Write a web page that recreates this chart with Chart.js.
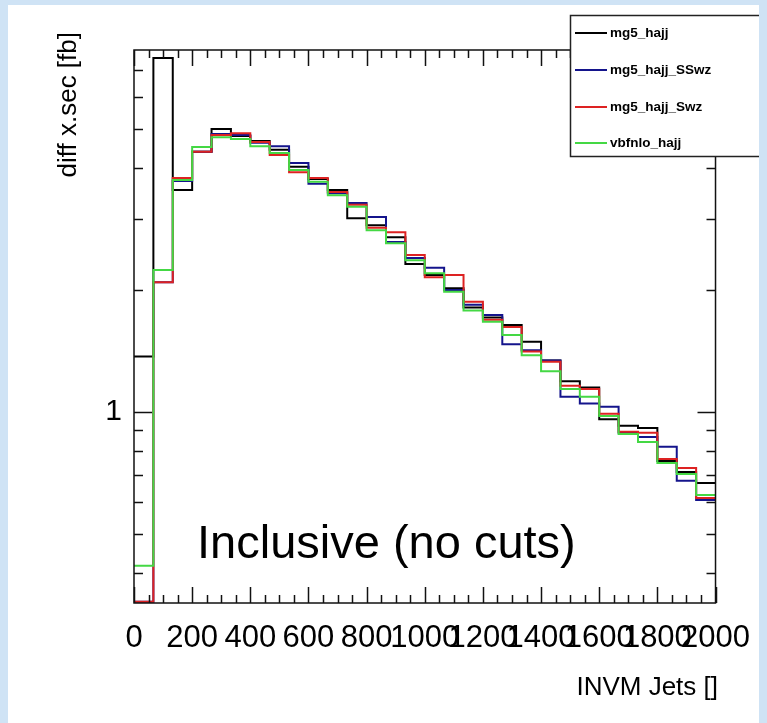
<!DOCTYPE html>
<html>
<head>
<meta charset="utf-8">
<script src="https://cdn.jsdelivr.net/npm/chart.js@4.4.1/dist/chart.umd.min.js"></script>
<style>
  html, body { margin: 0; padding: 0; background: #cfe3f5; }
  #wrap { width: 767px; height: 723px; }
</style>
</head>
<body>
<div id="wrap"><canvas id="histChart" width="767" height="723"></canvas></div>
<script>
// binning of the INVM histogram
const xMin = 0, xMax = 2000, nBins = 30;
const xLabels = [0, 200, 400, 600, 800, 1000, 1200, 1400, 1600, 1800, 2000];
const yTickValues = [0.4, 0.5, 0.6, 0.7, 0.8, 0.9, 1, 2, 3, 4, 5, 6, 7];
const yLabelValues = [1];
const yMin = 0.3375, yMax = 7.83;

const seriesNames  = ["mg5_hajj", "mg5_hajj_SSwz", "mg5_hajj_Swz", "vbfnlo_hajj"];
const seriesColors = ["#000000", "#14148c", "#dd2222", "#44d844"];

// bin contents (diff x.sec [fb]), one value per bin
const mg5_hajj = [1.37, 7.48, 3.53, 4.39, 5.00, 4.80, 4.67, 4.44, 4.03, 3.76,
                  3.53, 3.01, 2.89, 2.70, 2.32, 2.18, 2.02, 1.81, 1.71, 1.64,
                  1.49, 1.34, 1.19, 1.15, 0.96, 0.924, 0.913, 0.757, 0.711, 0.668];
const mg5_hajj_SSwz = [0.34, 2.09, 3.72, 4.39, 4.86, 4.83, 4.62, 4.53, 4.12, 3.66,
                       3.47, 3.28, 3.03, 2.63, 2.40, 2.27, 2.00, 1.84, 1.735, 1.47,
                       1.42, 1.34, 1.09, 1.05, 1.03, 0.888, 0.867, 0.82, 0.676, 0.606];
const mg5_hajj_Swz = [0.34, 2.09, 3.78, 4.39, 4.83, 4.88, 4.64, 4.31, 3.91, 3.78,
                      3.49, 3.25, 2.85, 2.78, 2.44, 2.15, 2.18, 1.87, 1.69, 1.62,
                      1.41, 1.33, 1.16, 1.14, 0.99, 0.893, 0.888, 0.765, 0.727, 0.613];
const vbfnlo_hajj = [0.417, 2.24, 3.74, 4.51, 4.77, 4.72, 4.53, 4.36, 3.96, 3.70,
                     3.43, 3.21, 2.81, 2.61, 2.37, 2.20, 1.98, 1.78, 1.67, 1.55,
                     1.38, 1.26, 1.14, 1.09, 0.977, 0.882, 0.843, 0.748, 0.703, 0.624];

const seriesValues = [mg5_hajj, mg5_hajj_SSwz, mg5_hajj_Swz, vbfnlo_hajj];
const FONT = "'Liberation Sans', Arial, Helvetica, sans-serif";

// turn bin contents into step points (left edge of each bin + closing edge)
function histPoints(vals) {
  const w = (xMax - xMin) / nBins;
  const pts = vals.map((v, i) => ({ x: xMin + i * w, y: v }));
  pts.push({ x: xMax, y: vals[vals.length - 1] });
  return pts;
}

// ROOT-like canvas: pad background, frame, inward ticks, legend, titles
const rootStyle = {
  id: "rootStyle",
  beforeDraw(chart) {
    const ctx = chart.ctx;
    ctx.save();
    ctx.fillStyle = "#cfe3f5";
    ctx.fillRect(0, 0, chart.width, chart.height);
    ctx.fillStyle = "#ffffff";
    ctx.fillRect(8, 5, 751, chart.height - 5);
    ctx.restore();
  },
  afterDatasetsDraw(chart) {
    const ctx = chart.ctx;
    const a = chart.chartArea;
    const xs = chart.scales.x, ys = chart.scales.y;
    ctx.save();
    ctx.strokeStyle = "#111";
    ctx.lineWidth = 1.5;
    ctx.strokeRect(a.left, a.top, a.right - a.left, a.bottom - a.top);

    ctx.beginPath();
    for (let v = xMin; v <= xMax; v += 50) {
      const px = Math.round(xs.getPixelForValue(v)) + 0.5;
      const len = v % 200 === 0 ? 16 : 8;
      ctx.moveTo(px, a.bottom); ctx.lineTo(px, a.bottom - len);
      ctx.moveTo(px, a.top);    ctx.lineTo(px, a.top + len);
    }
    yTickValues.forEach(v => {
      const py = Math.round(ys.getPixelForValue(v)) + 0.5;
      const len = yLabelValues.includes(v) ? 18 : 9;
      ctx.moveTo(a.left, py);  ctx.lineTo(a.left + len, py);
      ctx.moveTo(a.right, py); ctx.lineTo(a.right - len, py);
    });
    ctx.stroke();
    ctx.restore();
  },
  afterDraw(chart) {
    const ctx = chart.ctx;
    ctx.save();

    // legend box
    ctx.fillStyle = "#ffffff";
    ctx.fillRect(570, 15, 195, 141);
    ctx.strokeStyle = "#222";
    ctx.lineWidth = 1.5;
    ctx.strokeRect(570.5, 15.5, 195, 141);
    const rowsY = [33, 70, 107, 143];
    ctx.font = "bold 13.5px " + FONT;
    ctx.textBaseline = "middle";
    chart.data.datasets.forEach((ds, i) => {
      ctx.strokeStyle = ds.borderColor;
      ctx.lineWidth = 2;
      ctx.beginPath();
      ctx.moveTo(575, rowsY[i]); ctx.lineTo(607, rowsY[i]);
      ctx.stroke();
      ctx.fillStyle = "#000";
      ctx.fillText(ds.label, 610, rowsY[i]);
    });
    // pad edge on the right
    ctx.fillStyle = "#cfe3f5";
    ctx.fillRect(759, 0, chart.width - 759, chart.height);

    // axis titles
    ctx.fillStyle = "#000";
    ctx.font = "26px " + FONT;
    ctx.textBaseline = "alphabetic";
    ctx.textAlign = "right";
    ctx.fillText("INVM Jets []", 718, 695);
    ctx.save();
    ctx.translate(76, 32);
    ctx.rotate(-Math.PI / 2);
    ctx.fillText("diff x.sec [fb]", 0, 0);
    ctx.restore();

    // annotation
    ctx.textAlign = "left";
    ctx.font = "47px " + FONT;
    ctx.fillText("Inclusive (no cuts)", 197, 558);
    ctx.restore();
  }
};

const ctx = document.getElementById("histChart").getContext("2d");
new Chart(ctx, {
  type: "line",
  data: {
    datasets: seriesNames.map((name, i) => ({
      label: name,
      data: histPoints(seriesValues[i]),
      borderColor: seriesColors[i],
      borderWidth: 2,
      pointRadius: 0,
      stepped: true,
      fill: false,
      order: seriesNames.length - i
    }))
  },
  options: {
    responsive: false,
    animation: false,
    devicePixelRatio: 1,
    events: [],
    layout: { padding: { left: 0, right: 50, top: 50, bottom: 0 } },
    plugins: { legend: { display: false }, tooltip: { enabled: false } },
    scales: {
      x: {
        type: "linear",
        min: xMin,
        max: xMax,
        bounds: "data",
        afterFit: s => { s.height = 120; },
        afterBuildTicks: s => { s.ticks = xLabels.map(v => ({ value: v })); },
        grid: { display: false, drawTicks: false },
        border: { display: false },
        ticks: {
          autoSkip: false,
          maxRotation: 0,
          padding: 17,
          color: "#000",
          font: { family: FONT, size: 31 },
          callback: v => String(v)
        }
      },
      y: {
        type: "logarithmic",
        min: yMin,
        max: yMax,
        bounds: "data",
        afterFit: s => { s.width = 134; },
        afterBuildTicks: s => { s.ticks = yTickValues.map(v => ({ value: v })); },
        grid: { display: false, drawTicks: false },
        border: { display: false },
        ticks: {
          autoSkip: false,
          padding: 12,
          color: "#000",
          font: { family: FONT, size: 30 },
          callback: v => (yLabelValues.includes(v) ? String(v) : "")
        }
      }
    }
  },
  plugins: [rootStyle]
});
</script>
</body>
</html>
